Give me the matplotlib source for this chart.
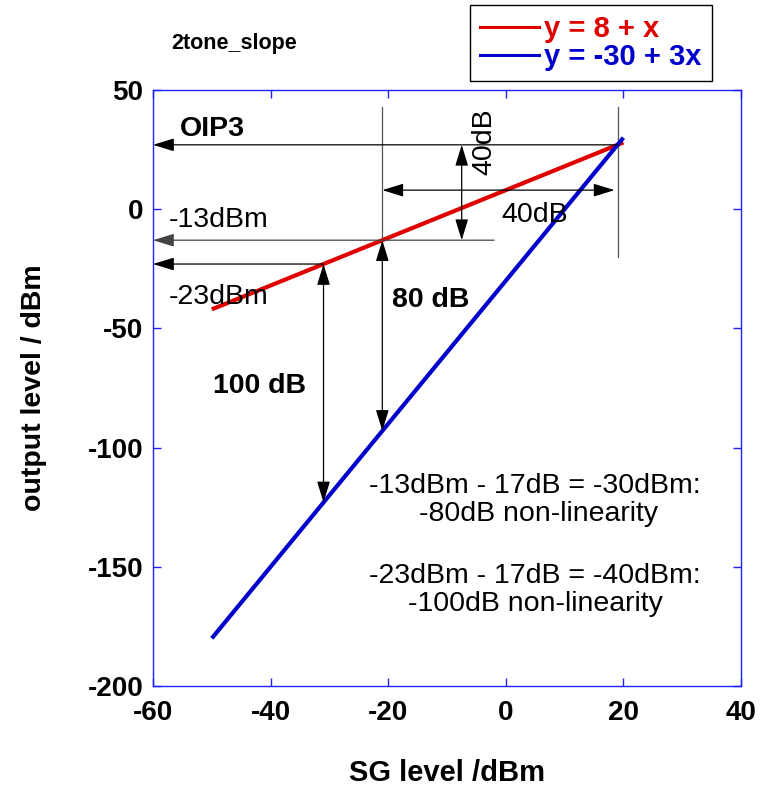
import matplotlib
matplotlib.use("Agg")
import matplotlib.pyplot as plt
from matplotlib.lines import Line2D

plt.rcParams['font.family'] = ['Liberation Sans', 'DejaVu Sans']
plt.rcParams['axes.unicode_minus'] = False

# Two-tone intercept chart: fundamental (slope 1) and 3rd-order product (slope 3)
sg_level = [-50, 20]
fundamental = [-42, 28]      # y = 8 + x
im3 = [-180, 30]             # y = -30 + 3x
legend_labels = ["y = 8 + x", "y = -30 + 3x"]

x_ticks = [-60, -40, -20, 0, 20, 40]
y_ticks = [50, 0, -50, -100, -150, -200]

# intercept point and reference levels
oip3_x, oip3_y = 19, 27
lvl_a_x, lvl_a_y, lvl_a_im3 = -21, -13, -93
lvl_b_x, lvl_b_y, lvl_b_im3 = -31, -23, -123

RED = '#e00000'
BLUE = '#0000cc'
AX_BLUE = '#2020ff'

fig = plt.figure(figsize=(7.65, 7.90), dpi=100)
ax = fig.add_axes([153 / 765, 1 - 686 / 790, 588 / 765, 596 / 790])

ax.plot(sg_level, fundamental, color=RED, lw=3.0, solid_capstyle='butt', zorder=3)
ax.plot(sg_level, im3, color=BLUE, lw=3.0, solid_capstyle='butt', zorder=3)

ax.set_xlim(-60, 40)
ax.set_ylim(-200, 50)
ax.set_xticks(x_ticks)
ax.set_yticks(y_ticks)
for s in ax.spines.values():
    s.set_color(AX_BLUE)
    s.set_linewidth(1.0)
ax.tick_params(direction='in', length=6, width=1, color=AX_BLUE,
               top=True, right=True, labelsize=20, pad=7)
ax.tick_params(axis='x', pad=10)
for lab in ax.get_xticklabels() + ax.get_yticklabels():
    lab.set_fontweight('bold')

ax.set_xlabel("SG level /dBm", fontsize=21, fontweight='bold', labelpad=24)
ax.set_ylabel("output level / dBm", fontsize=20.5, fontweight='bold', labelpad=29)

fig.text(171 / 765, 1 - 44 / 790, "2tone_slope", fontsize=15.5, fontweight='bold',
         ha='left', va='center')

handles = [Line2D([], [], color=RED, lw=2.2), Line2D([], [], color=BLUE, lw=2.2)]
leg = fig.legend(handles, legend_labels, loc='upper left',
                 bbox_to_anchor=(470 / 765, 1 - 5 / 790),
                 prop=dict(weight='bold', size=21), labelcolor='linecolor',
                 frameon=True, fancybox=False, edgecolor='black', framealpha=1,
                 handlelength=2.0, handletextpad=0.2, borderpad=0.35,
                 labelspacing=0.0, borderaxespad=0)
leg.get_frame().set_linewidth(1.0)

HEAD = "-|>,head_length=1.3,head_width=0.4"
DHEAD = "<|-|>,head_length=1.3,head_width=0.4"


def arrow(x0, y0, x1, y1, style=HEAD, color='black'):
    ax.annotate("", xy=(x1, y1), xytext=(x0, y0),
                arrowprops=dict(arrowstyle=style, color=color, lw=0.9,
                                mutation_scale=10, shrinkA=0, shrinkB=0),
                annotation_clip=False, zorder=4)


def vline(x, y0, y1, color='#555555'):
    ax.plot([x, x], [y0, y1], color=color, lw=0.9, zorder=2)


# vertical guides at the intercept and at the -13 dBm input level
vline(oip3_x, 43, -20)
vline(lvl_a_x, 43, lvl_a_y)

# level arrows pointing back to the output axis
arrow(oip3_x, oip3_y, -60, oip3_y)
arrow(-2, lvl_a_y, -60, lvl_a_y, color='#444444')
arrow(lvl_b_x, lvl_b_y, -60, lvl_b_y)

# spans between the two curves
arrow(lvl_a_x, lvl_a_y, lvl_a_x, lvl_a_im3, style=DHEAD)
arrow(lvl_b_x, lvl_b_y, lvl_b_x, lvl_b_im3, style=DHEAD)
arrow(-7.5, oip3_y, -7.5, lvl_a_y, style=DHEAD)
arrow(lvl_a_x, 8, 18.5, 8, style=DHEAD)

tk = dict(fontsize=20.5, ha='left', va='center', clip_on=False)
ax.text(-55.5, 33.5, "OIP3", fontweight='bold', **tk)
ax.text(-57.3, -4.6, "-13dBm", **tk)
ax.text(-57.3, -37, "-23dBm", **tk)
ax.text(-19.4, -38, "80 dB", fontweight='bold', **tk)
ax.text(-49.8, -74, "100 dB", fontweight='bold', **tk)
ax.text(-0.8, -2.5, "40dB", **tk)
ax.text(-3.7, 28.5, "40dB", fontsize=20.5, rotation=90, ha='center', va='center')

ax.text(-23.2, -116, "-13dBm - 17dB = -30dBm:", **tk)
ax.text(-14.8, -128, "-80dB non-linearity", **tk)
ax.text(-23.2, -154, "-23dBm - 17dB = -40dBm:", **tk)
ax.text(-16.6, -165.5, "-100dB non-linearity", **tk)

fig.savefig("out.png", dpi=100)
